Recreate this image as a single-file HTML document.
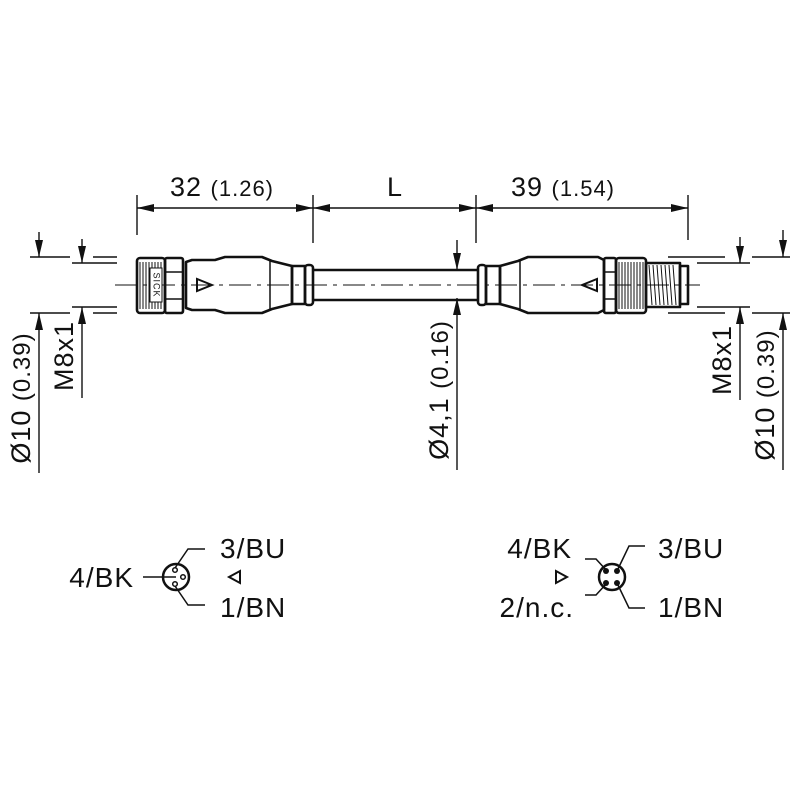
<!DOCTYPE html>
<html><head><meta charset="utf-8"><style>body{margin:0;background:#fff}svg{display:block}text{font-family:"Liberation Sans",sans-serif;fill:#111;letter-spacing:1px}</style></head><body>
<svg width="800" height="800" viewBox="0 0 800 800" xmlns="http://www.w3.org/2000/svg">
<g stroke="#111" stroke-width="1.4" fill="none">
<line x1="137" y1="195" x2="137" y2="235"/><line x1="313" y1="195" x2="313" y2="243"/><line x1="476" y1="195" x2="476" y2="243"/><line x1="688" y1="195" x2="688" y2="240"/>
<line x1="137" y1="208" x2="688" y2="208"/>
<line x1="30" y1="257" x2="70" y2="257"/><line x1="93" y1="257" x2="117" y2="257"/>
<line x1="72" y1="263" x2="117" y2="263"/><line x1="72" y1="307" x2="117" y2="307"/>
<line x1="30" y1="313" x2="70" y2="313"/><line x1="93" y1="313" x2="117" y2="313"/>
<line x1="39" y1="232" x2="39" y2="257"/>
<line x1="39" y1="473" x2="39" y2="313"/>
<line x1="82" y1="239" x2="82" y2="263"/>
<line x1="82" y1="398" x2="82" y2="307"/>
<line x1="668" y1="257" x2="725" y2="257"/><line x1="752" y1="257" x2="790" y2="257"/>
<line x1="697" y1="263" x2="750" y2="263"/><line x1="697" y1="307" x2="750" y2="307"/>
<line x1="668" y1="313" x2="725" y2="313"/><line x1="752" y1="313" x2="790" y2="313"/>
<line x1="740" y1="237" x2="740" y2="263"/>
<line x1="740" y1="400" x2="740" y2="307"/>
<line x1="783" y1="230" x2="783" y2="257"/>
<line x1="783" y1="470" x2="783" y2="313"/>
<line x1="457" y1="240" x2="457" y2="270"/>
<line x1="457" y1="470" x2="457" y2="298"/>
<line x1="115" y1="285" x2="700" y2="285" stroke-width="1" stroke-dasharray="22,6,4,6"/>
</g>
<g fill="#111">
<polygon points="137,208 154,204 154,212"/>
<polygon points="313,208 296,204 296,212"/>
<polygon points="313,208 330,204 330,212"/>
<polygon points="476,208 459,204 459,212"/>
<polygon points="476,208 493,204 493,212"/>
<polygon points="688,208 671,204 671,212"/>
<polygon points="39,257 35,240 43,240"/>
<polygon points="39,313 35,330 43,330"/>
<polygon points="82,263 78,246 86,246"/>
<polygon points="82,307 78,324 86,324"/>
<polygon points="740,263 736,246 744,246"/>
<polygon points="740,307 736,324 744,324"/>
<polygon points="783,257 779,240 787,240"/>
<polygon points="783,313 779,330 787,330"/>
<polygon points="457,270 453,253 461,253"/>
<polygon points="457,298 453,315 461,315"/>
</g>
<g stroke="#111" stroke-width="2.6" fill="none" stroke-linejoin="round">
<rect x="137" y="258" width="28" height="55" rx="3"/>
<rect x="165" y="258" width="18" height="55" rx="2"/>
<line x1="165" y1="272" x2="183" y2="272" stroke-width="1.5"/><line x1="165" y1="299" x2="183" y2="299" stroke-width="1.5"/>
<path d="M186,262 L192,260 L215,260 L225,257 L262,257 L272,261 L292,266 L292,304 L272,309 L262,313 L225,313 L215,310 L192,310 L186,308 Z"/>
<line x1="270" y1="260" x2="270" y2="310" stroke-width="1.5"/>
<rect x="292" y="266" width="13" height="38"/>
<rect x="305" y="265" width="8" height="40" rx="3"/>
<line x1="313" y1="270" x2="478" y2="270"/><line x1="313" y1="300" x2="478" y2="300"/>
<rect x="478" y="265" width="8" height="40" rx="3"/>
<rect x="486" y="266" width="14" height="38"/>
<path d="M500,266 L518,261 L528,257 L598,257 L604,260 L604,310 L598,313 L528,313 L518,309 L500,304 Z"/>
<line x1="520" y1="260" x2="520" y2="310" stroke-width="1.5"/>
<rect x="604" y="258" width="12" height="55" rx="2"/>
<line x1="604" y1="272" x2="616" y2="272" stroke-width="1.5"/><line x1="604" y1="299" x2="616" y2="299" stroke-width="1.5"/>
<rect x="616" y="258" width="30" height="55" rx="3"/>
<rect x="646" y="263" width="34" height="44"/>
<rect x="680" y="266" width="8" height="38"/>
</g>
<g stroke="#111" stroke-width="1">
<path d="M140,262v47M143,262v47M146,262v47M149,262v47M152,262v47M155,262v47M158,262v47M161,262v47"/>
<path d="M619,262v47M622,262v47M625,262v47M628,262v47M631,262v47M634,262v47M637,262v47M640,262v47M643,262v47"/>
<path d="M649,265l3,40M653,265l3,40M657,265l3,40M661,265l3,40M665,265l3,40M669,265l3,40M673,265l3,40"/>
</g>
<rect x="150" y="268" width="12" height="34" fill="#fff" stroke="#111" stroke-width="1"/>
<text x="156" y="285" font-size="9" transform="rotate(90 156 285)" text-anchor="middle" dominant-baseline="middle">SICK</text>
<path d="M212,285 L197,279 L197,291 Z" fill="none" stroke="#111" stroke-width="2"/>
<path d="M582,285 L597,279 L597,291 Z" fill="none" stroke="#111" stroke-width="2"/>
<text x="222" y="196" font-size="27" text-anchor="middle">32 <tspan font-size="22">(1.26)</tspan></text>
<text x="395" y="196" font-size="27" text-anchor="middle">L</text>
<text x="563" y="196" font-size="27" text-anchor="middle">39 <tspan font-size="22">(1.54)</tspan></text>
<text transform="translate(30,398) rotate(-90)" font-size="27" text-anchor="middle">Ø10 <tspan font-size="24">(0.39)</tspan></text>
<text transform="translate(73,356) rotate(-90)" font-size="27" text-anchor="middle">M8x1</text>
<text transform="translate(448,390) rotate(-90)" font-size="27" text-anchor="middle">Ø4,1 <tspan font-size="24">(0.16)</tspan></text>
<text transform="translate(731,360) rotate(-90)" font-size="27" text-anchor="middle">M8x1</text>
<text transform="translate(774,395) rotate(-90)" font-size="27" text-anchor="middle">Ø10 <tspan font-size="24">(0.39)</tspan></text>
<g stroke="#111" fill="none" stroke-width="1.5">
<circle cx="176" cy="577" r="13" stroke-width="2.5"/>
<line x1="143" y1="577" x2="176" y2="577"/>
<path d="M175,568 L188,549 L205,549"/><path d="M175,586 L188,605 L205,605"/>
<circle cx="175" cy="570" r="2.3"/><circle cx="183" cy="577" r="2.3"/><circle cx="175" cy="584" r="2.3"/>
<circle cx="612" cy="577" r="13" stroke-width="2.5"/>
<path d="M607,571 L596,559 L585,559"/><path d="M607,583 L596,595 L585,595"/>
<path d="M617,571 L629,546 L645,546"/><path d="M617,583 L629,608 L645,608"/>
</g>
<g fill="#111"><circle cx="606" cy="571" r="3"/><circle cx="617" cy="571" r="3"/><circle cx="606" cy="583" r="3"/><circle cx="617" cy="583" r="3"/></g>
<path d="M229,577 L240,571 L240,583 Z" fill="none" stroke="#111" stroke-width="2"/>
<path d="M567,577 L556,571 L556,583 Z" fill="none" stroke="#111" stroke-width="2"/>
<g font-size="28">
<text x="134" y="587" text-anchor="end">4/BK</text>
<text x="220" y="558">3/BU</text>
<text x="220" y="617">1/BN</text>
<text x="572" y="558" text-anchor="end">4/BK</text>
<text x="574" y="617" text-anchor="end">2/n.c.</text>
<text x="658" y="558">3/BU</text>
<text x="658" y="617">1/BN</text>
</g>
</svg>
</body></html>
